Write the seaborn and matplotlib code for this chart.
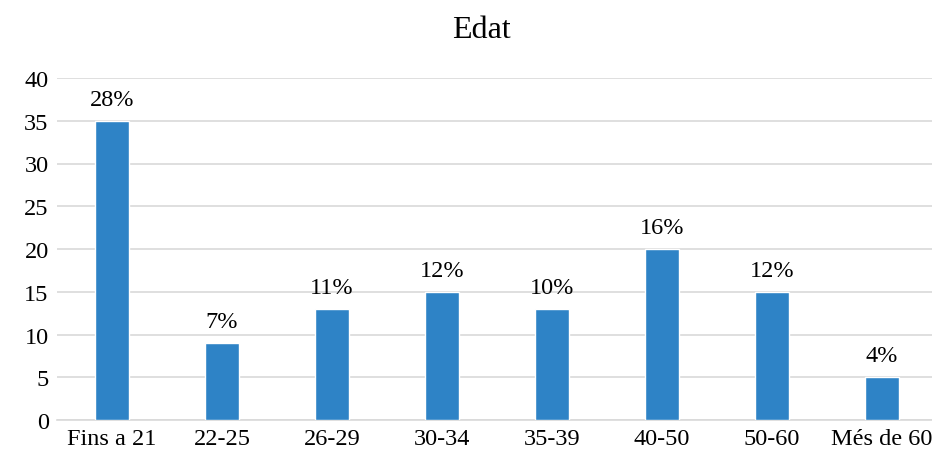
import matplotlib
matplotlib.use("Agg")
import matplotlib.pyplot as plt
import seaborn as sns
import pandas as pd

categories = ["Fins a 21", "22-25", "26-29", "30-34", "35-39", "40-50", "50-60", "Més de 60"]
values = [35, 9, 13, 15, 13, 20, 15, 5]
pct_labels = ["28%", "7%", "11%", "12%", "10%", "16%", "12%", "4%"]
title = "Edat"
yticks = [0, 5, 10, 15, 20, 25, 30, 35, 40]

sns.set_style("white")
plt.rcParams['font.family'] = ['Liberation Serif', 'DejaVu Serif']
plt.rcParams['text.color'] = 'black'

df = pd.DataFrame({"cat": categories, "val": values})

fig = plt.figure(figsize=(9.32, 4.6), dpi=100)
ax = fig.add_axes([57/932, 39/460, 880/932, 342/460])
sns.barplot(data=df, x="cat", y="val", color="#2E83C6", saturation=1, width=0.31, ax=ax, zorder=3)

ax.set_ylim(0, 40)
ax.set_xlim(-0.5, 7.5)
ax.set_yticks(yticks)
ax.yaxis.grid(True, color="#D9D9D9", linewidth=1.2, zorder=0)
ax.set_axisbelow(True)
for s in ["top", "right", "left"]:
    ax.spines[s].set_visible(False)
ax.spines["bottom"].set_color("#D9D9D9")
ax.spines["bottom"].set_linewidth(1.2)
ax.tick_params(axis="both", length=0, labelsize=17.5, colors="black", pad=6)
ax.set_xlabel("")
ax.set_ylabel("")

for i, (v, lab) in enumerate(zip(values, pct_labels)):
    ax.annotate(lab, (i, v), xytext=(0, 8), textcoords="offset points",
                ha="center", va="bottom", fontsize=17.5, color="black")

fig.text(481/932, 1 - 30/460, title, ha="center", va="center", fontsize=23, color="black")

fig.savefig("out.png", dpi=100)
